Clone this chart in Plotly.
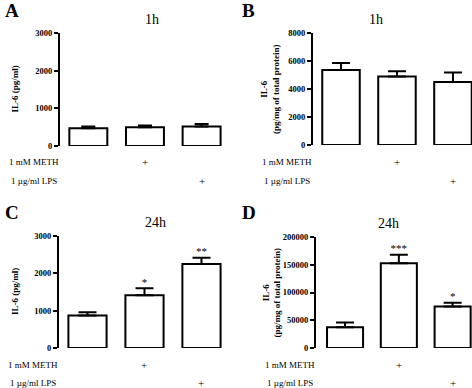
import plotly.graph_objects as go

groups = ["Control", "METH", "LPS"]
a_vals = [470, 495, 515]
a_err = [45, 50, 70]
b_vals = [5350, 4900, 4500]
b_err = [500, 360, 670]
c_vals = [870, 1410, 2250]
c_err = [85, 190, 170]
d_vals = [37500, 152500, 75000]
d_err = [8500, 15500, 6500]
c_stars = ["", "*", "**"]
d_stars = ["", "***", "*"]
meth_marks = ["", "+", ""]
lps_marks = ["", "", "+"]

W, H = 472, 388
FONT = "Liberation Serif, Times New Roman, serif"

def px(x):
    return x / W

def py(y):
    return (H - y) / H

panels = [
    dict(vals=a_vals, err=a_err, stars=None, title="1h", ylabel="<b>IL-6 (pg/ml)</b>",
         x0=60, x1=222, xr=[-0.5, 2.36], yt=33, yb=146, yr=[0, 3000], dt=1000,
         letter="A", lx=3, ly=10, ylx=15, rows=(162, 181), cap=7, tx=143),
    dict(vals=b_vals, err=b_err, stars=None, title="1h",
         ylabel="<b>IL-6</b><br><b>(pg/mg of total protein)</b>",
         x0=313, x1=472, xr=[-0.5, 2.34], yt=33, yb=145, yr=[0, 8000], dt=2000,
         letter="B", lx=240, ly=10, ylx=270, rows=(162, 181), cap=9, tx=385),
    dict(vals=c_vals, err=c_err, stars=c_stars, title="24h", ylabel="<b>IL-6 (pg/ml)</b>",
         x0=59, x1=222, xr=[-0.5, 2.36], yt=236, yb=348, yr=[0, 3000], dt=1000,
         letter="C", lx=3, ly=212, ylx=15, rows=(365, 383), cap=9, tx=143),
    dict(vals=d_vals, err=d_err, stars=d_stars, title="24h",
         ylabel="<b>IL-6</b><br><b>(pg/mg of total protein)</b>",
         x0=316, x1=472, xr=[-0.54, 2.36], yt=237, yb=348, yr=[0, 200000], dt=50000,
         letter="D", lx=240, ly=212, ylx=271, rows=(365, 383), cap=9, tx=401),
]

fig = go.Figure()
annotations = []
layout_axes = {}

for i, p in enumerate(panels, start=1):
    xa = "x" if i == 1 else f"x{i}"
    ya = "y" if i == 1 else f"y{i}"
    xname = "xaxis" if i == 1 else f"xaxis{i}"
    yname = "yaxis" if i == 1 else f"yaxis{i}"
    xs = list(range(len(groups)))
    fig.add_trace(go.Bar(
        x=xs, y=p["vals"], width=0.67,
        marker=dict(color="white", line=dict(color="black", width=2)),
        error_y=dict(type="data", symmetric=False, array=p["err"],
                     arrayminus=[0] * len(p["err"]), color="black",
                     thickness=2, width=p["cap"]),
        xaxis=xa, yaxis=ya, showlegend=False, hoverinfo="skip",
    ))
    if p["stars"]:
        tops = [v + e for v, e in zip(p["vals"], p["err"])]
        fig.add_trace(go.Scatter(
            x=xs, y=tops, mode="text", text=p["stars"],
            textposition="top center",
            textfont=dict(family=FONT, size=11, color="black"),
            xaxis=xa, yaxis=ya, showlegend=False, hoverinfo="skip",
            cliponaxis=False,
        ))
    layout_axes[xname] = dict(
        domain=[px(p["x0"]), px(p["x1"])], range=p["xr"], anchor=ya,
        showticklabels=False, showgrid=False, zeroline=False,
        showline=False, ticks="", fixedrange=True,
    )
    layout_axes[yname] = dict(
        domain=[py(p["yb"]), py(p["yt"])], range=p["yr"], anchor=xa,
        showgrid=False, zeroline=False, showline=True, linecolor="black",
        linewidth=2, ticks="outside", ticklen=4, tickwidth=2,
        tickcolor="black", dtick=p["dt"], tick0=0, tickformat="d",
        tickfont=dict(family=FONT, size=8.5, color="black", weight="bold"),
        fixedrange=True,
    )
    annotations.append(dict(
        x=px(p["tx"]), y=py(p["yt"] - 4), xref="paper", yref="paper",
        text=p["title"], showarrow=False, yanchor="bottom",
        font=dict(family=FONT, size=14, color="black"),
    ))
    annotations.append(dict(
        x=px(p["lx"]), y=py(p["ly"]), xref="paper", yref="paper",
        text="<b>" + p["letter"] + "</b>", showarrow=False,
        xanchor="left", yanchor="middle",
        font=dict(family=FONT, size=19, color="black"),
    ))
    annotations.append(dict(
        x=px(p["ylx"]), y=py((p["yt"] + p["yb"]) / 2), xref="paper", yref="paper",
        text=p["ylabel"], showarrow=False, textangle=-90,
        xanchor="center", yanchor="middle",
        font=dict(family=FONT, size=9, color="black"),
    ))
    row_labels = ["1 mM METH", "1 \u00b5g/ml LPS"]
    row_marks = [meth_marks, lps_marks]
    lab_right = p["x0"] - 1
    for ry, lab, marks in zip(p["rows"], row_labels, row_marks):
        annotations.append(dict(
            x=px(lab_right - 25), y=py(ry), xref="paper", yref="paper",
            text=lab, showarrow=False, xanchor="center", yanchor="middle",
            font=dict(family=FONT, size=9, color="black"),
        ))
        for xi, m in zip(xs, marks):
            if m:
                annotations.append(dict(
                    x=xi, y=py(ry), xref=xa, yref="paper",
                    text=m, showarrow=False, xanchor="center", yanchor="middle",
                    font=dict(family=FONT, size=11, color="black"),
                ))

fig.update_layout(
    template="none",
    width=W, height=H, margin=dict(l=0, r=0, t=0, b=0, pad=0),
    paper_bgcolor="white", plot_bgcolor="white",
    font=dict(family=FONT, color="black"),
    annotations=annotations, bargap=0, **layout_axes,
)

fig.write_html("out.html", config={"displayModeBar": False, "staticPlot": True})

with open("out.html", "r", encoding="utf-8") as f:
    html = f.read()
html = html.replace("<head>", "<head><style>html,body{margin:0;padding:0;overflow:hidden;}</style>", 1)
with open("out.html", "w", encoding="utf-8") as f:
    f.write(html)
